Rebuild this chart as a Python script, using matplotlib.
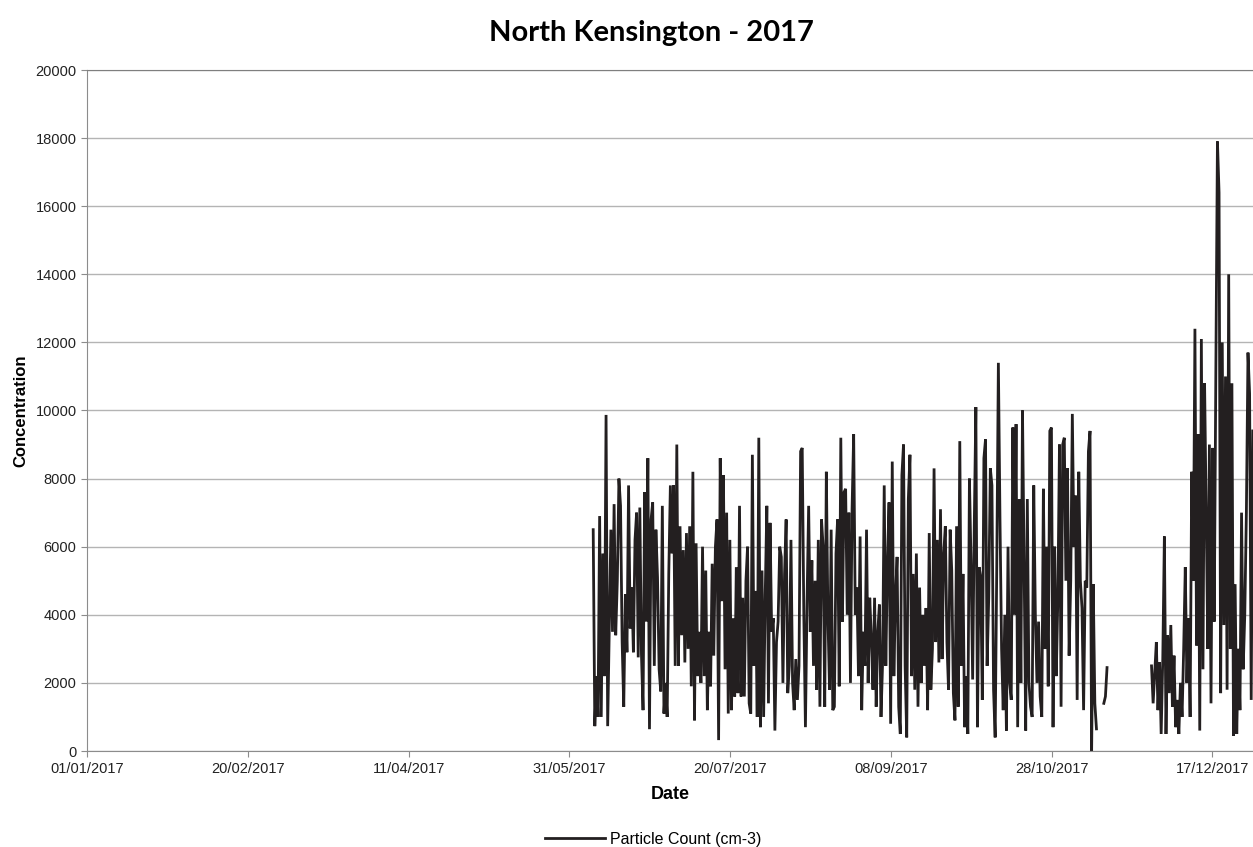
import pandas as pd
import matplotlib
matplotlib.use("Agg")
import matplotlib.pyplot as plt
import matplotlib.dates as mdates

# particle counts, one value every 12 hours
jun_nov_start = "2017-06-07 10:00"
jun_nov = [
    6500, 730, 2200, 1000, 6900, 1000, 5800, 2200, 9870, 730, 3600, 6500, 3500, 7250, 3400, 5000, 8000,
    7200, 3200, 1300, 4600, 2900, 7800, 3600, 4800, 2900, 6200, 7000, 2750, 7150, 2850, 1200, 7600, 3800,
    8600, 640, 6800, 7300, 2500, 6500, 5100, 2400, 1750, 7200, 1100, 2000, 1000, 5200, 7800, 5800,
    7800, 2500, 9000, 2500, 6600, 3400, 5900, 2600, 6400, 3000, 6600, 1900, 8200, 900, 6100, 2200, 3500,
    2000, 6000, 2200, 5300, 1200, 3500, 1900, 5500, 2800, 6000, 6800, 320, 8600, 4400, 8100, 2400, 7000,
    1100, 6200, 1200, 3900, 1600, 5400, 1700, 7200, 1600, 4500, 1600, 5000, 6000, 1400, 1100, 8700, 2500,
    4700, 1000, 9200,
    700, 5300, 1000, 4600, 7200, 1400, 6700, 3500, 3900, 600, 3200, 3800, 6000, 5700, 2000, 5200, 6800,
    1700, 2500, 6200, 2000, 1200, 2700, 1500, 2500, 8800, 8900, 4000, 700, 4400, 7200, 3500, 5600, 2500,
    5000, 1800, 6200, 1300, 6800, 6000, 1300, 8200, 3900, 1800, 6500, 1200, 1300, 5800, 6800, 1900, 9200,
    3800, 7600,
    7700, 4000, 7000, 2000, 7100, 9300, 4000, 4800, 2200, 6300, 1200, 3500, 2500, 6500, 2000, 4500, 3300,
    1800, 4500, 1300, 3500, 4300, 1000, 2600, 7800, 2500, 5500, 7300, 800, 8500, 2200, 4500, 5700, 1300,
    500, 8100, 9000, 2500, 400, 7400, 8700, 2200, 5200, 1800, 5800, 1300, 4800, 2000, 4000, 2500, 4200,
    1200, 6400,
    1800, 3000, 8300, 3200, 6200, 2600, 7100, 2700, 5800, 6600, 3200, 1800, 6500, 5300, 1700, 900, 6600,
    1300, 9100, 2500, 5200, 700, 2200, 500, 8000, 5500, 2100, 6600, 10100, 700, 5400, 5100, 1500, 8600,
    9150, 2500, 4500, 8300, 7800, 1800, 400, 5400, 11400, 6800, 3000, 1200, 4000, 600, 6000, 2000, 1500,
    9500, 4000,
    9600, 700, 7400, 2000, 10000, 5500, 600, 7400, 2000, 1300, 1000, 7800, 4000, 2000, 3800, 1600, 1000,
    7700, 3000, 6000, 1900, 9400, 9500, 700, 6000, 2200, 4500, 9000, 1300, 9000, 9200, 5000, 8300, 2800,
    5000, 9900, 6000, 7500, 1500, 8200, 5000, 4200, 1200, 5000, 4800, 8800, 9400, 0, 4900, 1400, 650,
]
nov13_start = "2017-11-13 05:00"
nov13 = [1400, 1600, 2450]
dec_start = "2017-11-28 01:00"
dec = [
    2500, 1400, 2300, 3200, 1200, 2600, 500, 2700, 6300, 500, 3400, 1700, 3700, 1300, 2800, 700, 1500,
    500, 2000, 1000, 3000, 5400, 2000, 3900, 1000, 8200, 5000, 12400, 3100, 9300, 600, 12100, 2400,
    10800, 7000, 3000, 9000, 1400, 8900, 3800, 11100, 17900, 16400, 1700, 12000, 3700, 11000, 1800,
    14000, 3000, 10800, 450, 4900, 500, 3000, 1200, 7000, 2400, 4000, 7000, 11700, 10500, 1500, 9400,
]

title = "North Kensington - 2017"
series_name = "Particle Count (cm-3)"
tick_dates = pd.date_range("2017-01-01", periods=8, freq="50D")
y_ticks = list(range(0, 20001, 2000))

plt.rcParams['font.family'] = ['Liberation Sans', 'DejaVu Sans']

fig = plt.figure(figsize=(12.53, 8.47), dpi=100)
ax = fig.add_axes([87 / 1253, 1 - 751 / 847, 1 - 87 / 1253, (751 - 70) / 847])

line_color = '#231f20'
for start, vals in [(jun_nov_start, jun_nov), (nov13_start, nov13), (dec_start, dec)]:
    t = pd.date_range(start, periods=len(vals), freq="12h")
    ax.plot(t, vals, color=line_color, lw=2.0, solid_joinstyle='miter')
ax.lines[0].set_label(series_name)

ax.set_xlim(pd.Timestamp("2017-01-01"), pd.Timestamp("2017-01-01") + pd.Timedelta(days=362.6))
ax.set_ylim(0, 20000)
ax.set_xticks(tick_dates)
ax.xaxis.set_major_formatter(mdates.DateFormatter("%d/%m/%Y"))
ax.set_yticks(y_ticks)

ax.grid(axis='y', color='#b4b4b4', lw=1)
ax.set_axisbelow(True)
ax.spines['right'].set_visible(False)
ax.spines['top'].set_color('#7f7f7f')
ax.spines['left'].set_color('#8c8c8c')
ax.spines['bottom'].set_color('#8c8c8c')
ax.tick_params(axis='both', colors='#8c8c8c', labelcolor='#222222', labelsize=10.5, length=4)
ax.tick_params(axis='x', pad=4)

ax.set_xlabel("Date", fontsize=13, fontweight='bold', labelpad=7)
ax.set_ylabel("Concentration", fontsize=12, fontweight='bold', labelpad=5)

fig.text(651 / 1253, 1 - 33 / 847, title, ha='center', va='center',
         fontsize=21, fontweight='bold', family=['Lato', 'DejaVu Sans'])

fig.legend(loc='center', bbox_to_anchor=(653 / 1253, 1 - 839 / 847), frameon=False,
           fontsize=11.5, handlelength=3.8, handletextpad=0.3)

fig.savefig("out.png", dpi=100)
